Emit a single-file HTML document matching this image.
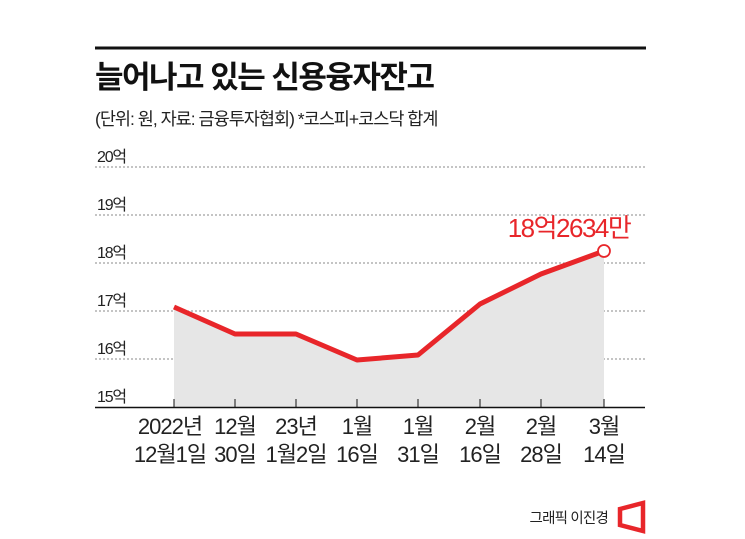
<!DOCTYPE html>
<html><head><meta charset="utf-8"><style>
body{margin:0;background:#fff;}
svg{display:block;font-family:"Liberation Sans","Noto Sans CJK KR",sans-serif;}
</style></head><body>
<svg width="745" height="539" viewBox="0 0 745 539">
<rect x="95" y="46.5" width="551" height="3" fill="#111"/>
<text x="95" y="88" font-size="31" font-weight="bold" fill="#111" letter-spacing="-1.5">늘어나고 있는 신용융자잔고</text>
<text x="95" y="125" font-size="17.5" fill="#222" letter-spacing="-1">(단위: 원, 자료: 금융투자협회)  *코스피+코스닥 합계</text>
<g stroke="#888" stroke-width="1" stroke-dasharray="2,2">
<line x1="95" y1="167" x2="645" y2="167"/>
<line x1="95" y1="215" x2="645" y2="215"/>
<line x1="95" y1="263" x2="645" y2="263"/>
<line x1="95" y1="311" x2="645" y2="311"/>
<line x1="95" y1="359" x2="645" y2="359"/>
</g>
<g font-size="16" fill="#222" letter-spacing="-1.2">
<text x="97" y="162">20억</text>
<text x="97" y="210">19억</text>
<text x="97" y="258">18억</text>
<text x="97" y="306">17억</text>
<text x="97" y="354">16억</text>
<text x="97" y="402">15억</text>
</g>
<polygon points="174,307 235,334 296,334 357,360 418,355 480,304 541,274 604,251 604,407 174,407" fill="#e6e6e6"/>
<polyline points="174,307 235,334 296,334 357,360 418,355 480,304 541,274 604,251" fill="none" stroke="#e8262a" stroke-width="5" stroke-linejoin="round"/>
<circle cx="604" cy="251" r="6" fill="#fff" stroke="#e8262a" stroke-width="1.8"/>
<text x="569" y="237" font-size="26" fill="#e8262a" text-anchor="middle" letter-spacing="-1.5">18억2634만</text>
<line x1="95" y1="407.5" x2="645" y2="407.5" stroke="#111" stroke-width="1.5"/>
<g stroke="#111" stroke-width="1">
<line x1="174" y1="399" x2="174" y2="407"/><line x1="235" y1="399" x2="235" y2="407"/>
<line x1="296" y1="399" x2="296" y2="407"/><line x1="357" y1="399" x2="357" y2="407"/>
<line x1="418" y1="399" x2="418" y2="407"/><line x1="480" y1="399" x2="480" y2="407"/>
<line x1="541" y1="399" x2="541" y2="407"/><line x1="604" y1="399" x2="604" y2="407"/>
</g>
<g font-size="22" fill="#222" text-anchor="middle" letter-spacing="-1">
<text x="170" y="434">2022년</text><text x="170" y="462">12월1일</text>
<text x="235" y="434">12월</text><text x="235" y="462">30일</text>
<text x="296" y="434">23년</text><text x="296" y="462">1월2일</text>
<text x="357" y="434">1월</text><text x="357" y="462">16일</text>
<text x="418" y="434">1월</text><text x="418" y="462">31일</text>
<text x="480" y="434">2월</text><text x="480" y="462">16일</text>
<text x="541" y="434">2월</text><text x="541" y="462">28일</text>
<text x="604" y="434">3월</text><text x="604" y="462">14일</text>
</g>
<text x="608" y="523" font-size="14.5" fill="#222" text-anchor="end" letter-spacing="-0.8">그래픽 이진경</text>
<polygon points="620,509 643,503 643,531 620,525" fill="none" stroke="#e8262a" stroke-width="4.5"/>
</svg>
</body></html>
